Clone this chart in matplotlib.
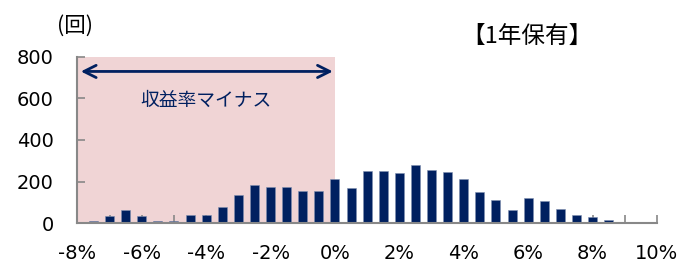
import matplotlib
matplotlib.use("Agg")
import matplotlib.pyplot as plt
import numpy as np

plt.rcParams['font.family'] = ['DejaVu Sans', 'Noto Sans CJK JP']

# bin centres (%) and counts
returns = [-7.5, -7.0, -6.5, -6.0, -5.5, -5.0, -4.5, -4.0, -3.5, -3.0, -2.5, -2.0,
           -1.5, -1.0, -0.5, 0.0, 0.5, 1.0, 1.5, 2.0, 2.5, 3.0, 3.5, 4.0, 4.5,
           5.0, 5.5, 6.0, 6.5, 7.0, 7.5, 8.0, 8.5]
counts = [10, 35, 63, 34, 10, 8, 40, 40, 75, 135, 183, 175,
          172, 156, 153, 214, 169, 252, 251, 243, 280, 257, 248, 212, 151,
          111, 63, 119, 106, 68, 39, 27, 13]
xticks = [-8, -6, -4, -2, 0, 2, 4, 6, 8, 10]
xticklabels = ['-8%', '-6%', '-4%', '-2%', '0%', '2%', '4%', '6%', '8%', '10%']
yticks = [0, 200, 400, 600, 800]

fig = plt.figure(figsize=(6.85, 2.71), dpi=100)
ax = fig.add_axes([0.113, 0.177, 0.846, 0.613])

navy = '#002060'
cjk = ['Noto Sans CJK JP', 'DejaVu Sans']
ax.axvspan(-8, 0, color='#F0D4D5', zorder=0, lw=0)
ax.bar(returns, counts, width=0.28, color=navy, edgecolor='#7f8fb0', linewidth=0.4, zorder=2)

ax.annotate('', xy=(0.02, 730), xytext=(-7.98, 730),
            arrowprops=dict(arrowstyle='<->', color=navy, lw=2, mutation_scale=22), zorder=3)
ax.text(-4, 593, '収益率マイナス', ha='center', va='center', fontsize=13.5,
        color=navy, zorder=3, family=cjk)

ax.set_xlim(-8, 10)
ax.set_ylim(0, 800)
ax.set_xticks(xticks)
ax.set_xticklabels(xticklabels, fontsize=14)
ax.set_xticks(np.arange(-7, 10.01, 2), minor=True)
ax.set_yticks(yticks)
ax.set_yticklabels([str(v) for v in yticks], fontsize=14)
ax.tick_params(axis='both', which='both', direction='in', color='#888888', length=6, width=1.2)
ax.tick_params(axis='x', pad=15)
ax.tick_params(axis='y', pad=17)
for s in ['top', 'right']:
    ax.spines[s].set_visible(False)
for s in ['left', 'bottom']:
    ax.spines[s].set_color('#888888')
    ax.spines[s].set_linewidth(1.5)

fig.text(0.083, 0.905, '(回)', fontsize=15.5, ha='left', va='center', family=cjk)
fig.text(0.769, 0.865, '【1年保有】', fontsize=17, ha='center', va='center', family=cjk)

fig.savefig('out.png', dpi=100)
